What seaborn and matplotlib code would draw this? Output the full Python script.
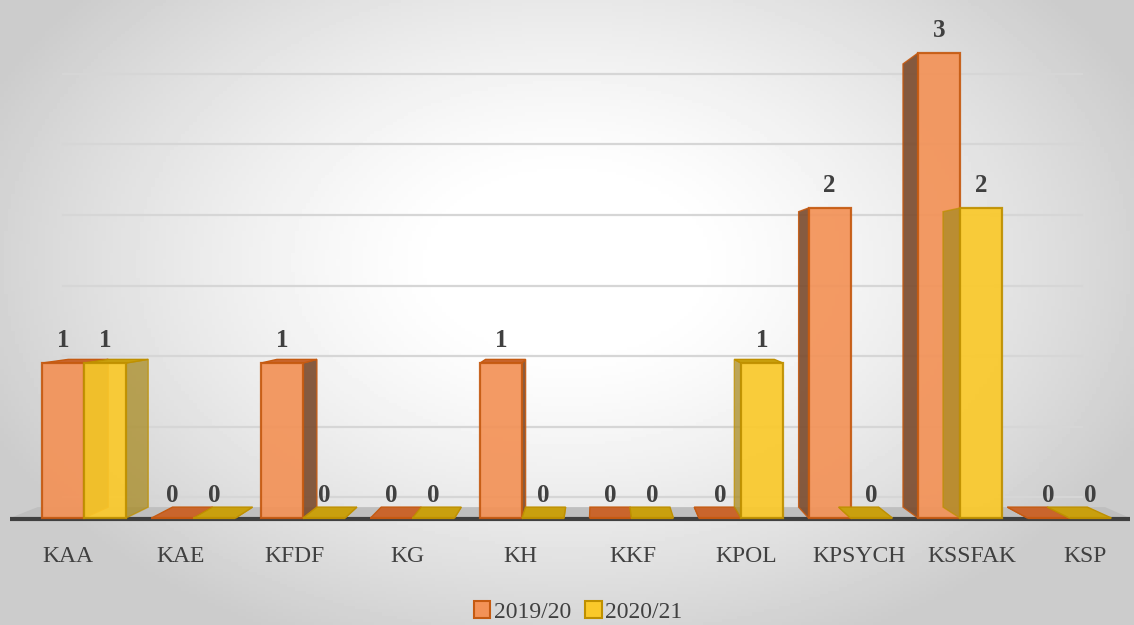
import numpy as np
import pandas as pd
import seaborn as sns
import matplotlib.pyplot as plt
from matplotlib.patches import Polygon, Patch

# 데이터
categories = ['KAA', 'KAE', 'KFDF', 'KG', 'KH', 'KKF', 'KPOL', 'KPSYCH', 'KSSFAK', 'KSP']
years = ['2019/20', '2020/21']
vals_1920 = [1, 0, 1, 0, 1, 0, 0, 2, 3, 0]
vals_2021 = [1, 0, 0, 0, 0, 0, 1, 0, 2, 0]

df = pd.DataFrame({
    'cat': categories * 2,
    'year': [years[0]] * len(categories) + [years[1]] * len(categories),
    'value': vals_1920 + vals_2021,
})

# 색상 (front, edge, side, top)
front_c = ['#F39257', '#FAC92A']
edge_c = ['#C55A11', '#BF9000']
side_c = ['#7A4A2C', '#A88A22']
side_a = [0.9, 0.75]
top_c = ['#C9652C', '#C9A00E']
text_c = '#404040'

plt.rcParams['font.family'] = ['Liberation Serif', 'DejaVu Serif']

fig = plt.figure(figsize=(11.34, 6.25), dpi=100)
ax = fig.add_axes([0, 0, 1, 1])

sns.barplot(data=df, x='cat', y='value', hue='year', palette=front_c,
            width=0.767, saturation=1, errorbar=None, legend=False, ax=ax)
bars = list(ax.patches)

xlim = (-0.767, 9.589)
ylim = (-0.690, 3.342)

# 배경 방사형 그라디언트
gx, gy = np.meshgrid(np.linspace(0, 1, 300), np.linspace(0, 1, 200))
r = np.sqrt(((gx - 0.5) / 0.75) ** 2 + ((gy - 0.42) / 0.9) ** 2)
bg = 1.0 - 0.2 * np.clip((r - 0.14) / 0.6, 0, 1) ** 1.3
ax.imshow(bg, cmap='gray', vmin=0, vmax=1, extent=(*xlim, *ylim),
          origin='upper', aspect='auto', zorder=0)

# 원근 (소실점)
vp = np.array([4.70, 1.50])
s = 0.047
s_wall = 0.09


def back(pt, k=s):
    pt = np.array(pt, dtype=float)
    return pt + k * (vp - pt)


# 뒷벽 그리드
fl, fr = -0.676, 9.553
for v in np.arange(0, 3.01, 0.5):
    a = back((fl, v), s_wall)
    b = back((fr, v), s_wall)
    ax.plot([a[0], b[0]], [a[1], b[1]], color='#d6d6d6', lw=1.6, zorder=1)

# 바닥
floor = Polygon([(fl, 0), (fr, 0), back((fr, 0)), back((fl, 0))],
                closed=True, facecolor='#bfbfbf', edgecolor='none', zorder=1.2)
ax.add_patch(floor)
ax.plot([fl, fr], [-0.008, -0.008], color='#404040', lw=3, zorder=1.3,
        solid_capstyle='butt')

# 3D 막대
n = len(categories)
for idx, p in enumerate(bars):
    k = idx // n
    x0 = p.get_x()
    w = p.get_width()
    h = p.get_height()
    x1 = x0 + w
    z = 2 + 2 * k
    if vp[0] > x1:
        pts = [(x1, 0), (x1, h), back((x1, h)), back((x1, 0))]
        ax.add_patch(Polygon(pts, closed=True, facecolor=side_c[k], alpha=side_a[k],
                             edgecolor=edge_c[k], lw=1, zorder=z))
    elif vp[0] < x0:
        pts = [(x0, 0), (x0, h), back((x0, h)), back((x0, 0))]
        ax.add_patch(Polygon(pts, closed=True, facecolor=side_c[k], alpha=side_a[k],
                             edgecolor=edge_c[k], lw=1, zorder=z))
    if h < vp[1]:
        pts = [(x0, h), (x1, h), back((x1, h)), back((x0, h))]
        ax.add_patch(Polygon(pts, closed=True, facecolor=top_c[k],
                             edgecolor=edge_c[k], lw=1, zorder=z + 0.5))
    p.set_facecolor(front_c[k])
    p.set_alpha(0.92)
    p.set_edgecolor(edge_c[k])
    p.set_linewidth(1.6)
    p.set_zorder(z + 1)
    ax.annotate(f'{h:.0f}', (x0 + w / 2, h), xytext=(0, 11.5),
                textcoords='offset points', ha='center', va='baseline',
                fontsize=18, fontweight='bold', color=text_c, zorder=10)

# 카테고리 라벨 (앞쪽 축)
for i, c in enumerate(categories):
    ax.text(-0.146 + 1.032 * i, -0.245, c, ha='center', va='center',
            fontsize=17, color=text_c)

ax.set_xlim(*xlim)
ax.set_ylim(*ylim)
ax.axis('off')

handles = [Patch(facecolor=front_c[i], edgecolor=edge_c[i], lw=1.5, label=years[i])
           for i in range(2)]
fig.legend(handles=handles, loc='center', bbox_to_anchor=(0.51, 0.021), ncol=2,
           frameon=False, fontsize=17, handlelength=0.7, handleheight=0.7,
           handletextpad=0.15, columnspacing=0.6, labelcolor=text_c)

fig.savefig('out.png', dpi=100)
